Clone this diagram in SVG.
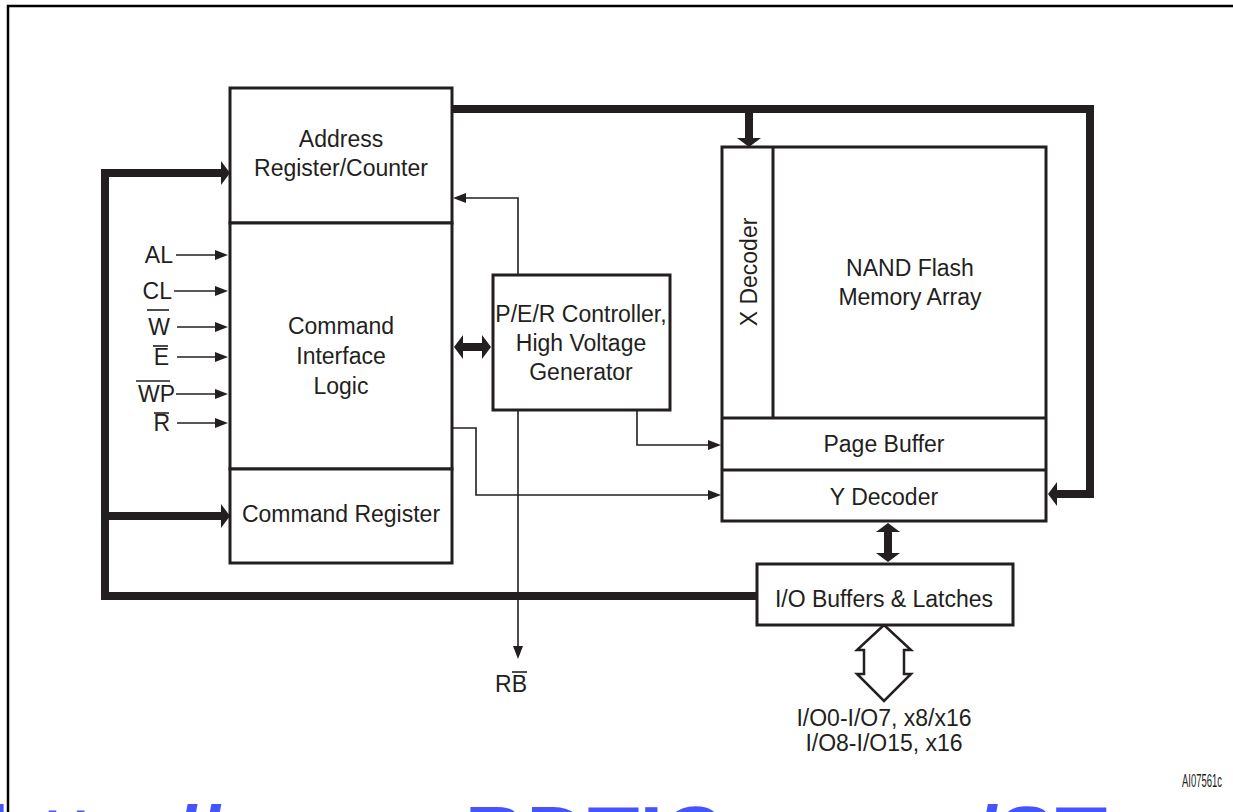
<svg xmlns="http://www.w3.org/2000/svg" width="1233" height="812" viewBox="0 0 1233 812">
<style>
.box{fill:#fff;stroke:#231f20;stroke-width:3}
.t{font-family:"Liberation Sans",Arial,sans-serif;font-size:23px;fill:#231f20}
.m{text-anchor:middle}
.e{text-anchor:end}
.thin{stroke:#231f20;stroke-width:1.6;fill:none}
.bus{stroke:#231f20;stroke-width:8;fill:none}
.ob{stroke:#231f20;stroke-width:1.6}
</style>
<defs>
<marker id="th" markerUnits="userSpaceOnUse" markerWidth="14" markerHeight="10" refX="0" refY="5" orient="auto" overflow="visible"><path d="M0,0 L13,5 L0,10 z" fill="#231f20"/></marker>
<marker id="bh" markerUnits="userSpaceOnUse" markerWidth="10" markerHeight="24" refX="0" refY="12" orient="auto-start-reverse" overflow="visible"><path d="M0,0 L9,12 L0,24 z" fill="#231f20"/></marker>
</defs>
<rect width="1233" height="812" fill="#fff"/>
<path d="M8,812 V6 H1233" fill="none" stroke="#000" stroke-width="2.5"/>

<g id="connectors">
<path class="bus" d="M757,596 H105 V173 H221" marker-end="url(#bh)"/>
<path class="bus" d="M105,516 H221" marker-end="url(#bh)"/>
<path class="bus" d="M452,109 H1090 V494 H1057" marker-end="url(#bh)"/>
<path class="bus" d="M749,109 V138" marker-end="url(#bh)"/>
<path class="bus" d="M463,347 H482" marker-start="url(#bh)" marker-end="url(#bh)"/>
<path class="bus" d="M888,532 V553" marker-start="url(#bh)" marker-end="url(#bh)"/>
<path class="thin" d="M176,255 H215" marker-end="url(#th)"/>
<path class="thin" d="M174,291 H215" marker-end="url(#th)"/>
<path class="thin" d="M177,327 H215" marker-end="url(#th)"/>
<path class="thin" d="M177,357 H215" marker-end="url(#th)"/>
<path class="thin" d="M176,394 H215" marker-end="url(#th)"/>
<path class="thin" d="M177,423 H215" marker-end="url(#th)"/>
<path class="thin" d="M518,275 V198 H466" marker-end="url(#th)"/>
<path class="thin" d="M637,410 V445 H708" marker-end="url(#th)"/>
<path class="thin" d="M452,428 H476 V495 H708" marker-end="url(#th)"/>
<path class="thin" d="M518,410 V646" marker-end="url(#th)"/>
<polygon points="884,625 857,650 864,650 864,674 857,674 884,701 911,674 904,674 904,650 911,650" fill="#fff" stroke="#231f20" stroke-width="2.5" stroke-linejoin="miter"/>
</g>

<g id="address">
<rect class="box" x="230" y="88" width="222" height="135"/>
<text class="t m" x="341" y="147">Address</text>
<text class="t m" x="341" y="176">Register/Counter</text>
</g>
<g id="command-interface">
<rect class="box" x="230" y="223" width="222" height="246"/>
<text class="t m" x="341" y="334">Command</text>
<text class="t m" x="341" y="364">Interface</text>
<text class="t m" x="341" y="394">Logic</text>
</g>
<g id="command-register">
<rect class="box" x="230" y="469" width="222" height="94"/>
<text class="t m" x="341" y="522">Command Register</text>
</g>
<g id="per-controller">
<rect class="box" x="493" y="275" width="177" height="135"/>
<text class="t m" x="581" y="322">P/E/R Controller,</text>
<text class="t m" x="581" y="351">High Voltage</text>
<text class="t m" x="581" y="380">Generator</text>
</g>
<g id="nand">
<rect class="box" x="722" y="147" width="324" height="374"/>
<line x1="773" y1="147" x2="773" y2="418" stroke="#231f20" stroke-width="3"/>
<line x1="722" y1="418" x2="1046" y2="418" stroke="#231f20" stroke-width="3"/>
<line x1="722" y1="470" x2="1046" y2="470" stroke="#231f20" stroke-width="3"/>
<text class="t m" transform="translate(757,272) rotate(-90)">X Decoder</text>
<text class="t m" x="910" y="276">NAND Flash</text>
<text class="t m" x="910" y="305">Memory Array</text>
<text class="t m" x="884" y="452">Page Buffer</text>
<text class="t m" x="884" y="505">Y Decoder</text>
</g>
<g id="io-buffers">
<rect class="box" x="757" y="564" width="256" height="61"/>
<text class="t m" x="884" y="607">I/O Buffers &amp; Latches</text>
</g>
<g id="labels">
<text class="t e" x="173" y="263">AL</text>
<text class="t e" x="172" y="299">CL</text>
<text class="t e" x="170" y="335">W</text>
<line class="ob" x1="147" y1="310" x2="169" y2="310"/>
<text class="t e" x="169" y="365">E</text>
<line class="ob" x1="153" y1="346" x2="168" y2="346"/>
<text class="t e" x="175" y="402">WP</text>
<line class="ob" x1="136" y1="381" x2="170" y2="381"/>
<text class="t e" x="170" y="431">R</text>
<line class="ob" x1="154" y1="413" x2="169" y2="413"/>
<text class="t m" x="511" y="692">RB</text>
<line class="ob" x1="512" y1="672" x2="527" y2="672"/>
<text class="t m" x="884" y="726">I/O0-I/O7, x8/x16</text>
<text class="t m" x="884" y="751">I/O8-I/O15, x16</text>
<text class="t e" x="1222" y="787" style="font-size:18px" textLength="40" lengthAdjust="spacingAndGlyphs">AI07561c</text>
</g>
<text x="-14" y="866" style="font-family:'Liberation Sans',Arial,sans-serif;font-size:85px;font-weight:bold;fill:#4455ff">http://<tspan x="246">www.BDTIC.com</tspan><tspan x="975">/ST</tspan></text>
</svg>
